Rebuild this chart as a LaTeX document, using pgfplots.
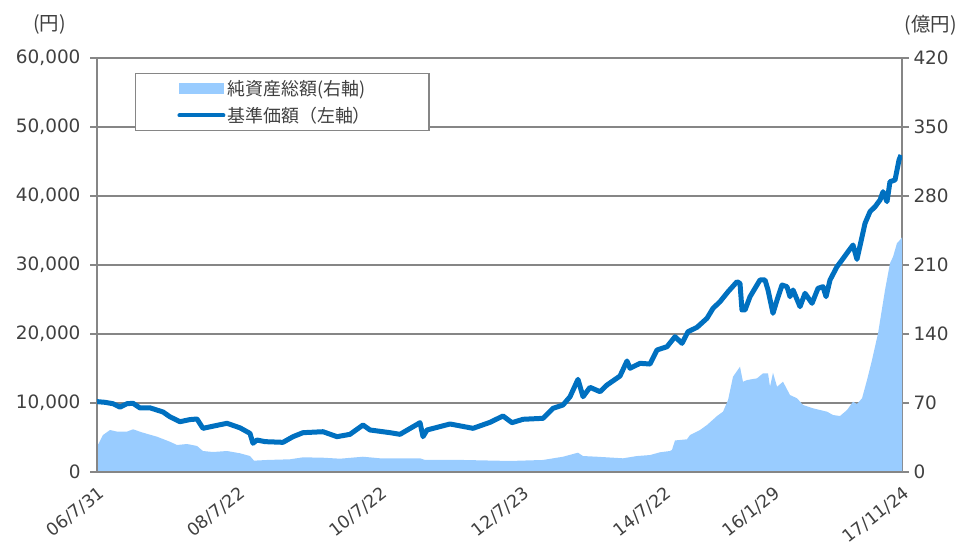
\documentclass[border=0pt]{standalone}
\usepackage{pgfplots}
\pgfplotsset{compat=1.18}
\usepackage{fontspec}
\setmainfont{DejaVu Sans}
\newfontfamily\cjk{Noto Sans CJK JP}
\definecolor{navblue}{RGB}{0,112,192}
\definecolor{areablue}{RGB}{153,204,255}
\definecolor{gridgray}{RGB}{134,134,134}
\definecolor{txt}{RGB}{64,64,64}

\pgfplotstableread{
x y
2006.579 25.7
2006.663 37.5
2006.762 42.6
2006.860 41
2007.001 41
2007.085 43.3
2007.226 39.9
2007.423 35.8
2007.605 30.7
2007.704 27.4
2007.845 28.4
2007.985 26.4
2008.069 21.3
2008.210 20.3
2008.407 21.3
2008.590 19
2008.730 16.2
2008.787 11.5
2008.969 12.2
2009.293 12.9
2009.476 14.9
2009.757 14.5
2009.996 13.5
2010.319 15.5
2010.558 13.9
2011.121 13.9
2011.191 12.2
2011.725 12.2
2012.386 11.2
2012.850 12.2
2013.131 15.5
2013.342 19.6
2013.413 16.2
2013.609 15.5
2013.975 13.9
2014.172 16.2
2014.355 17.2
2014.495 20
2014.636 21.3
2014.664 22.5
2014.706 32
2014.777 32.5
2014.875 33.2
2014.917 37.5
2015.058 42.6
2015.156 47.7
2015.297 56.8
2015.381 61.2
2015.452 73
2015.522 96.7
2015.620 106.8
2015.662 91.6
2015.719 93.3
2015.859 95
2015.944 100.1
2016.014 100.1
2016.042 86.5
2016.084 100.7
2016.141 86.5
2016.225 91.6
2016.323 78.1
2016.422 74.8
2016.506 68
2016.647 64.6
2016.844 61.2
2016.928 57.8
2017.026 56.8
2017.125 62.9
2017.209 71.3
2017.265 69
2017.336 74.8
2017.406 93.3
2017.476 113.6
2017.561 140.7
2017.660 185
2017.729 211.7
2017.772 218.4
2017.828 232.3
2017.870 235.4
2017.898 238
}\assets

\pgfplotstableread{
x y
2006.579 10200
2006.691 10100
2006.804 9900
2006.902 9400
2007.001 9900
2007.085 9960
2007.184 9280
2007.324 9300
2007.507 8700
2007.605 8000
2007.746 7290
2007.887 7600
2007.985 7680
2008.069 6330
2008.238 6700
2008.407 7060
2008.590 6400
2008.730 5600
2008.772 4160
2008.828 4640
2008.941 4400
2009.194 4300
2009.335 5120
2009.476 5700
2009.757 5840
2009.954 5120
2010.136 5460
2010.319 6810
2010.418 6090
2010.699 5700
2010.839 5460
2011.121 7150
2011.163 5120
2011.219 6090
2011.543 6960
2011.866 6330
2012.105 7200
2012.288 8120
2012.414 7150
2012.569 7640
2012.850 7780
2012.991 9230
2013.131 9710
2013.230 10910
2013.342 13430
2013.413 10910
2013.511 12270
2013.652 11640
2013.750 12610
2013.933 13910
2014.031 16090
2014.074 15030
2014.214 15750
2014.355 15650
2014.453 17680
2014.594 18160
2014.706 19610
2014.805 18650
2014.889 20330
2015.016 20970
2015.156 22280
2015.241 23730
2015.339 24680
2015.452 26130
2015.578 27580
2015.620 27340
2015.648 23480
2015.691 23480
2015.761 25410
2015.901 27830
2015.972 27830
2016.014 26380
2016.084 23000
2016.141 24930
2016.211 27100
2016.281 26860
2016.323 25410
2016.366 26380
2016.464 23960
2016.534 25900
2016.633 24450
2016.717 26620
2016.787 26860
2016.830 25410
2016.886 27830
2016.984 29760
2017.054 30720
2017.139 31930
2017.209 32900
2017.265 30820
2017.336 34100
2017.378 36040
2017.448 37730
2017.519 38450
2017.589 39420
2017.631 40620
2017.687 39180
2017.729 42070
2017.800 42320
2017.828 43770
2017.856 45220
2017.884 45940
}\nav

\begin{document}
\begin{tikzpicture}
\path[use as bounding box] (0,0) rectangle (961bp,-550bp);
\pgfplotsset{
  common/.style={
    at={(97bp,-472bp)}, anchor=south west,
    width=805bp, height=414bp, scale only axis,
    xmin=2006.579, xmax=2017.898,
    tick align=outside, major tick length=7bp,
    axis line style={gridgray, line width=1.5bp},
    tick label style={font=\fontsize{18.5}{21}\selectfont, text=txt},
    /pgf/number format/assume math mode=true,
  }
}
\begin{axis}[common,
  ymin=0, ymax=420, ytick={0,70,...,420},
  axis x line*=bottom, axis y line*=right,
  xtick={2006.579,2008.555,2010.553,2012.557,2014.553,2016.079,2017.898},
  xticklabels={06/7/31,08/7/22,10/7/22,12/7/23,14/7/22,16/1/29,17/11/24},
  xtick style={draw=none},
  ytick style={gridgray, line width=1.2bp},
  ymajorgrids, grid style={gridgray, line width=1.2bp},
  xticklabel style={rotate=38, anchor=north east, yshift=-2bp,
    font=\fontsize{17.5}{20}\selectfont},
  yticklabel style={xshift=1bp},
  ylabel={\cjk (億円)},
  ylabel style={at={(rel axis cs:1.036,1.08)}, rotate=-90, anchor=center,
    font=\cjk\fontsize{19.5}{22}\selectfont, text=txt},
]
\addplot[fill=areablue, draw=none] table {\assets} \closedcycle;
\end{axis}
\begin{axis}[common,
  ymin=0, ymax=60000, ytick={0,10000,...,60000},
  scaled y ticks=false,
  yticklabel style={xshift=-6bp, /pgf/number format/.cd, fixed, 1000 sep={,}},
  axis x line*=bottom, axis y line*=left,
  x axis line style={line width=2bp},
  xtick=\empty,
  ytick style={gridgray, line width=1.2bp},
  ylabel={\cjk (円)},
  ylabel style={at={(rel axis cs:-0.059,1.08)}, rotate=-90, anchor=center,
    font=\cjk\fontsize{19.5}{22}\selectfont, text=txt},
  legend style={at={(rel axis cs:0.047,0.964)}, anchor=north west,
    draw=gridgray, line width=1.2bp, fill=white,
    inner xsep=42bp, inner ysep=5bp,
    font=\cjk\fontsize{18}{21}\selectfont, text=txt,
    row sep=6bp},
  legend cell align=left,
]
\addlegendimage{legend image code/.code={\fill[areablue] (0bp,-5bp) rectangle (44bp,5bp);}}
\addlegendentry{純資産総額(右軸)\hspace*{20bp}}
\addplot[navblue, line width=5bp, line join=round,
  legend image code/.code={\draw[navblue, line width=4bp, line cap=round] (0bp,0bp) -- (44bp,0bp);}]
  table {\nav};
\addlegendentry{基準価額（左軸）}
\end{axis}
\end{tikzpicture}
\end{document}
